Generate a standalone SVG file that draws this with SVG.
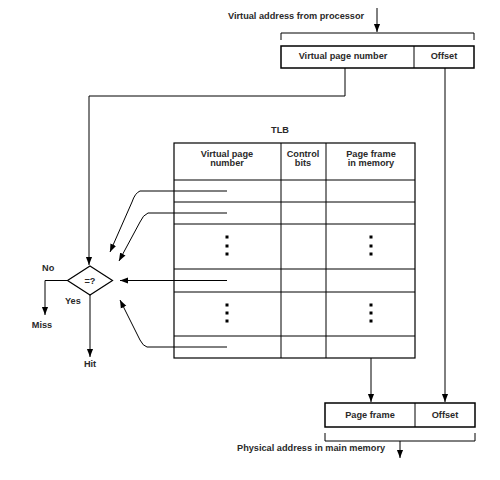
<svg xmlns="http://www.w3.org/2000/svg" width="500" height="480" viewBox="0 0 500 480">
<defs>
<marker id="ah" viewBox="0 0 10 10" refX="10" refY="5" markerWidth="8" markerHeight="8" markerUnits="userSpaceOnUse" orient="auto"><path d="M0,1.2 L10,5 L0,8.8 z" fill="#000"/></marker>
<style>
text{font-family:"Liberation Sans",Arial,sans-serif;font-size:9.2px;font-weight:bold;fill:#2a2a2a}
.c{text-anchor:middle}
.ln{stroke:#000;stroke-width:1;fill:none}
.bx{stroke:#000;stroke-width:1.5;fill:#fff}
.ar{stroke:#000;stroke-width:1;fill:none;marker-end:url(#ah)}
.dot{fill:#000}
</style>
</defs>
<rect width="500" height="480" fill="#fff"/>
<g id="virtual-address">
<text x="228" y="19">Virtual address from processor</text>
<path class="ln" d="M281,40 V33 H474 V40"/>
<rect class="bx" x="281" y="46" width="193" height="22"/>
<line class="ln" x1="414" y1="46" x2="414" y2="68"/>
<text class="c" x="343" y="59">Virtual page number</text>
<text class="c" x="444" y="59">Offset</text>
</g>
<g id="tlb">
<text class="c" x="280" y="133">TLB</text>
<rect x="174" y="143" width="241" height="215" fill="none" stroke="#000" stroke-width="1.2"/>
<path class="ln" d="M281,143 V358 M326,143 V358 M174,180 H415 M174,202 H415 M174,224 H415 M174,269 H415 M174,292 H415 M174,336 H415"/>
<text class="c" x="227" y="157">Virtual page</text>
<text class="c" x="227" y="166">number</text>
<text class="c" x="303" y="157">Control</text>
<text class="c" x="303" y="166">bits</text>
<text class="c" x="371" y="157">Page frame</text>
<text class="c" x="371" y="166">in memory</text>
<g class="dot">
<rect x="225.5" y="235.5" width="3" height="3"/><rect x="225.5" y="244.5" width="3" height="3"/><rect x="225.5" y="252.5" width="3" height="3"/>
<rect x="369.5" y="235.5" width="3" height="3"/><rect x="369.5" y="244.5" width="3" height="3"/><rect x="369.5" y="252.5" width="3" height="3"/>
<rect x="225.5" y="303.5" width="3" height="3"/><rect x="225.5" y="311.5" width="3" height="3"/><rect x="225.5" y="319.5" width="3" height="3"/>
<rect x="369.5" y="303.5" width="3" height="3"/><rect x="369.5" y="311.5" width="3" height="3"/><rect x="369.5" y="319.5" width="3" height="3"/>
</g>
</g>
<g id="compare">
<path d="M90,266 L112.5,280.5 L90,295 L67.5,280.5 Z" fill="#fff" stroke="#000" stroke-width="1.2"/>
<text class="c" x="90" y="284">=?</text>
<text x="42" y="271">No</text>
<text x="65" y="304">Yes</text>
</g>
<g id="miss"><text class="c" x="42" y="328">Miss</text></g>
<g id="hit"><text class="c" x="90" y="367">Hit</text></g>
<g id="physical-address">
<rect class="bx" x="325" y="403" width="150" height="24"/>
<line class="ln" x1="415" y1="403" x2="415" y2="427"/>
<text class="c" x="370" y="418">Page frame</text>
<text class="c" x="445" y="418">Offset</text>
<path class="ln" d="M325,433 V441 H475 V433"/>
<text x="237" y="451">Physical address in main memory</text>
</g>
<g id="connectors">
<line class="ar" x1="377" y1="8" x2="377" y2="32"/>
<path class="ar" d="M345,68 V96 H89 V265"/>
<line class="ar" x1="445" y1="68" x2="445" y2="402"/>
<line class="ar" x1="371" y1="358" x2="371" y2="402"/>
<path class="ar" d="M227,191 H140 Q135,193 132,202 L110,252"/>
<path class="ar" d="M227,213 H148 Q143,215 140,222 L119,261"/>
<line class="ar" x1="227" y1="280.5" x2="120" y2="280.5"/>
<path class="ar" d="M227,347 H147 Q143,346 140,340 L120,300"/>
<path class="ar" d="M67.5,280.5 H45 V315"/>
<line class="ar" x1="90" y1="295" x2="90" y2="357"/>
<line class="ar" x1="400" y1="441" x2="400" y2="458"/>
</g>
</svg>
